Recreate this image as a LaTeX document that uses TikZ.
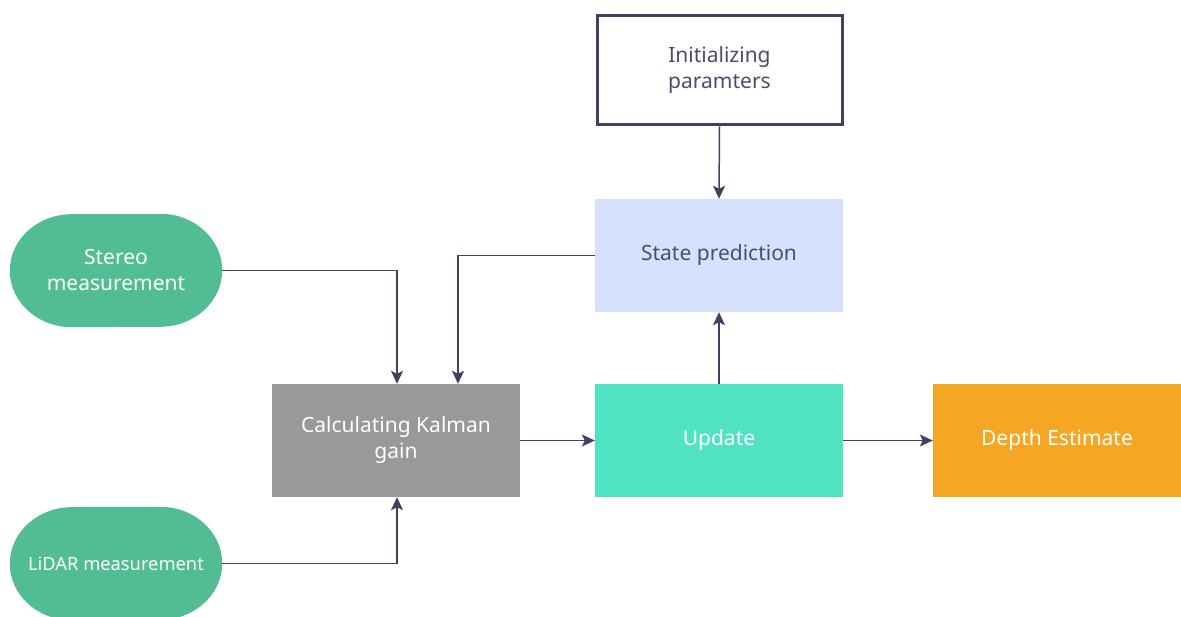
\documentclass[tikz,border=0pt]{standalone}
\usepackage{fontspec}
\setmainfont{Noto Sans}
\usetikzlibrary{arrows.meta,backgrounds}
\definecolor{ink}{HTML}{3E4262}
\definecolor{txtdark}{HTML}{4A4E6A}
\definecolor{measgreen}{HTML}{52BD94}
\definecolor{gaingray}{HTML}{999999}
\definecolor{updteal}{HTML}{50E3C2}
\definecolor{outorange}{HTML}{F5A623}
\definecolor{predblue}{HTML}{D6E0FF}
\tikzset{
  block/.style={rectangle, minimum width=248pt, minimum height=113pt, inner sep=0pt,
    align=center, font=\fontsize{21}{26}\selectfont},
  lightblock/.style={block, text=txtdark},
  darkblock/.style={block, text=white},
  meas/.style={rectangle, text=white, minimum width=212pt, minimum height=113pt,
    inner sep=0pt, align=center, font=\fontsize{21}{26}\selectfont},
  measfill/.style={fill=measgreen},
  conn/.style={draw=ink, line width=1.5pt, -{Stealth[length=13pt,width=12pt,inset=3pt]}}
}
% oval outline for a sensor node: flat top and bottom, half-ellipse ends
\newcommand{\ovalfill}[1]{%
  \fill[measfill] ([xshift=62pt]#1.north west) -- ([xshift=-62pt]#1.north east)
    arc[start angle=-90, end angle=90, x radius=62, y radius=56.5]
    -- ([xshift=62pt]#1.south west)
    arc[start angle=90, end angle=270, x radius=62, y radius=56.5] -- cycle;}
\begin{document}
\begin{tikzpicture}[x=1pt,y=-1pt]
\useasboundingbox (0,0) rectangle (1181,617);
\clip (0,0) rectangle (1181,617);

% blocks of the filter loop
\node[lightblock, draw=ink, line width=3pt, fill=white, minimum width=245pt, minimum height=109pt]
  (init) at (719.5,70.5) {Initializing\\paramters};
\node[lightblock, fill=predblue] (pred) at (719,255.5) {State prediction};
\node[darkblock, fill=gaingray] (gain) at (396,440.5) {Calculating Kalman\\gain};
\node[darkblock, fill=updteal] (upd) at (719,440.5) {Update};
\node[darkblock, fill=outorange] (depth) at (1057,440.5) {Depth Estimate};

% sensor inputs
\node[meas] (stereo) at (116,270.5) {Stereo\\measurement};
\node[meas, font=\fontsize{18.3}{22}\selectfont] (lidar) at (116,563.5) {LiDAR measurement};

\begin{scope}[on background layer]
  \fill[white] (0,0) rectangle (1181,617);
  \ovalfill{stereo}
  \ovalfill{lidar}
\end{scope}

% connectors
\draw[conn] (init.south) -- (pred.north);
\draw[conn] (pred.west) -| ([xshift=62pt]gain.north);
\draw[conn] (stereo.east) -| ([xshift=1pt]gain.north);
\draw[conn] (lidar.east) -| ([xshift=1pt]gain.south);
\draw[conn] (gain.east) -- (upd.west);
\draw[conn] (upd.north) -- (pred.south);
\draw[conn] (upd.east) -- (depth.west);
\end{tikzpicture}
\end{document}
